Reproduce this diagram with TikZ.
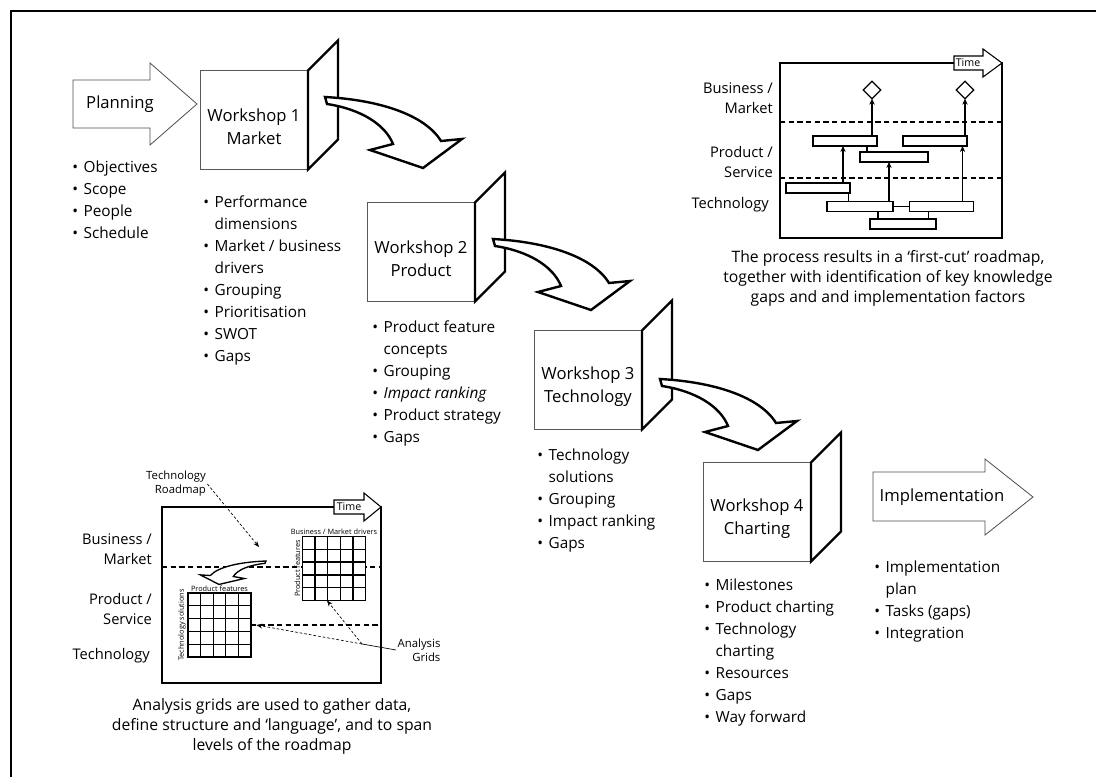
\documentclass[tikz,border=0pt]{standalone}
\usepackage{fontspec}
\setmainfont{Open Sans}
\usetikzlibrary{arrows.meta,positioning,shapes.geometric,calc}
\newcommand{\bul}{\makebox[8.5pt][l]{\textbullet}}
\newcommand{\hang}{\hspace*{8.5pt}}

\begin{document}
\begin{tikzpicture}[
  x=0.75pt, y=-0.75pt,
  border/.style={line width=1.4pt},
  sign/.style={draw=black!70, line width=0.6pt},
  signtext/.style={font=\fontsize{12.5}{15}\selectfont},
  wsbox/.style={draw=black!65, line width=0.7pt, minimum width=81pt,
    minimum height=74.25pt, inner sep=0pt, outer sep=0pt},
  wstext/.style={align=center, font=\fontsize{12.5}{17}\selectfont},
  panel/.style={draw, line width=1.8pt, fill=white, line join=miter},
  curvearrow/.style={draw, line width=1.8pt, fill=white, line join=miter},
  bigarrow/.pic={
    \path[curvearrow] (0,0) .. controls (55,3) and (100,18) .. (116,44)
      -- (137,42) -- (98,71) -- (45,53) -- (68,47)
      .. controls (60,27) and (35,12) .. (2,7) -- cycle;
  },
  items/.style={align=left, anchor=north west, inner sep=0pt,
    font=\fontsize{11.5}{16.5}\selectfont},
  lane/.style={dash pattern=on 4pt off 2.5pt, line width=1.3pt},
  rmframe/.style={line width=0.9pt},
  lanelabel/.style={align=right, anchor=east, inner sep=0pt,
    font=\fontsize{11}{15}\selectfont},
  timesign/.style={draw, line width=0.8pt, fill=white},
  timetext/.style={font=\fontsize{8}{9}\selectfont, inner sep=0pt},
  bar/.style={draw, line width=0.8pt, fill=white, minimum width=48pt,
    minimum height=7.5pt, inner sep=0pt, outer sep=0pt},
  mile/.style={diamond, draw, line width=0.9pt, fill=white,
    minimum size=13pt, inner sep=0pt, outer sep=0pt},
  upflow/.style={-{Stealth[length=4.5pt, width=4pt]}, line width=0.8pt},
  link/.style={line width=0.8pt},
  caption/.style={align=center, font=\fontsize{11.8}{15}\selectfont},
  gridbox/.style={draw, line width=1.3pt, fill=white, minimum width=47.25pt,
    minimum height=48pt, inner sep=0pt, outer sep=0pt},
  gridline/.style={line width=1pt},
  tinytext/.style={font=\fontsize{5.5}{6}\selectfont, inner sep=0.5pt},
  note/.style={align=right, font=\fontsize{8.5}{10.5}\selectfont, inner sep=1pt},
  leader/.style={dash pattern=on 2pt off 1.5pt, line width=0.5pt,
    -{Stealth[length=4.5pt, width=3.5pt]}}
]
\useasboundingbox (0,0) rectangle (1096,777);
\draw[border] (10,11) -- (1096,11);
\draw[border] (11,11) -- (11,777);

% planning
\draw[sign] (73,80) -- (150,80) -- (150,63) -- (197,104) -- (150,145) -- (150,128) -- (73,128) -- cycle;
\node[signtext] (plan) at (120,104) {Planning};
\node[items] (planlist) at (72,160.5) {\bul Objectives\\\bul Scope\\\bul People\\\bul Schedule};

% workshops
\node[wsbox, label={[wstext, yshift=-5pt]center:{Workshop 1\\Market}}] (ws1) at (254,120) {};
\node[wsbox, label={[wstext, yshift=-5pt]center:{Workshop 2\\Product}}] (ws2) at (421,252) {};
\node[wsbox, label={[wstext, yshift=-5pt]center:{Workshop 3\\Technology}}] (ws3) at (588,380) {};
\node[wsbox, label={[wstext, yshift=-5pt]center:{Workshop 4\\Charting}}] (ws4) at (757,512) {};
\foreach \w in {ws1,ws2,ws3,ws4}
  \draw[panel] (\w.south east) -- (\w.north east) -- ++(30,-30) -- ++(0,99) -- cycle;

\pic at (325,97) {bigarrow};
\pic at (493,239) {bigarrow};
\pic at (660,379) {bigarrow};

\node[items] (ws1list) at (203,195.5) {\bul Performance\\\hang dimensions\\\bul Market / business\\\hang drivers\\\bul Grouping\\\bul Prioritisation\\\bul SWOT\\\bul Gaps};
\node[items] (ws2list) at (372,320.5) {\bul Product feature\\\hang concepts\\\bul Grouping\\\bul \textit{Impact ranking}\\\bul Product strategy\\\bul Gaps};
\node[items] (ws3list) at (537,448.5) {\bul Technology\\\hang solutions\\\bul Grouping\\\bul Impact ranking\\\bul Gaps};
\node[items] (ws4list) at (704,578.5) {\bul Milestones\\\bul Product charting\\\bul Technology\\\hang charting\\\bul Resources\\\bul Gaps\\\bul Way forward};

% implementation
\draw[sign] (873,472) -- (985,472) -- (985,459) -- (1033,497) -- (985,535) -- (985,521) -- (873,521) -- cycle;
\node[signtext] (impl) at (942,497) {Implementation};
\node[items] (impllist) at (874,560.5) {\bul Implementation\\\hang plan\\\bul Tasks (gaps)\\\bul Integration};

% first-cut roadmap
\draw[rmframe] (780,63) rectangle (1002,238);
\draw[lane] (780,122) -- (1002,122);
\draw[lane] (780,178) -- (1002,178);
\draw[timesign] (954,56) -- (983,56) -- (983,49) -- (1002,63) -- (983,77) -- (983,70) -- (954,70) -- cycle;
\node[timetext] (time1) at (968,63) {Time};
\node[lanelabel] (bm1) at (773,98) {Business /\\Market};
\node[lanelabel] (ps1) at (773,162) {Product /\\Service};
\node[lanelabel] (te1) at (769,205) {Technology};

\node[bar] (barA) at (845,141) {};
\node[bar] (barB) at (935,141) {};
\node[bar, minimum width=51pt] (barC) at (894,157) {};
\node[bar] (barD) at (818,188) {};
\node[bar, minimum width=49.5pt] (barE) at (860,206.5) {};
\node[bar] (barF) at (941.5,206.5) {};
\node[bar, minimum width=49.5pt] (barG) at (903,224) {};
\node[mile] (mile1) at (872,90) {};
\node[mile] (mile2) at (965,90) {};

\draw[upflow] (mile1.south |- barA.north) -- (mile1.south);
\draw[upflow] (mile2.south |- barB.north) -- (mile2.south);
\draw[upflow] ([xshift=-5.25pt]barD.north east) -- ([xshift=-5.25pt]barD.north east |- barA.south);
\draw[upflow] ([xshift=-3pt]barE.north east) -- ([xshift=-3pt]barE.north east |- barC.south);
\draw[upflow] ([xshift=-8.25pt]barF.north east) -- ([xshift=-8.25pt]barF.north east |- barB.south);
\draw[link] (barE.east) -- (barF.west);
\draw[link] ([xshift=-11.25pt]barE.south east) -- ([xshift=-11.25pt]barE.south east |- barG.north);
\draw[link] ([xshift=14.25pt]barF.south west) -- ([xshift=14.25pt]barF.south west |- barG.north);
\draw[link] ([xshift=5.25pt]barC.north west) -- ([xshift=5.25pt]barC.north west |- barA.south);
\draw[link] ([xshift=-1pt]barD.south east) -- ([xshift=-1pt]barD.south east |- barE.north);

\node[caption] (cap1) at (888,278) {The process results in a ‘first-cut’ roadmap,\\together with identification of key knowledge\\gaps and and implementation factors};

% analysis grids
\draw[rmframe] (162,507) rectangle (381,683);
\draw[lane] (162,567) -- (381,567);
\draw[lane] (251,625) -- (381,625);
\draw[timesign] (334,500) -- (364,500) -- (364,493) -- (381,507) -- (364,521) -- (364,514) -- (334,514) -- cycle;
\node[timetext] (time2) at (349,507) {Time};
\node[lanelabel] (bm2) at (152,549) {Business /\\Market};
\node[lanelabel] (ps2) at (152,609) {Product /\\Service};
\node[lanelabel] (te2) at (150,656) {Technology};

\pic[curvearrow/.append style={line width=1pt}, xscale=-0.48, yscale=0.33] at (266,561) {bigarrow};

\node[gridbox] (grid1) at (334,568.5) {};
\node[gridbox] (grid2) at (219.5,625) {};
\foreach \g in {grid1,grid2}
  \foreach \k in {1,...,4} {
    \draw[gridline] ($(\g.north west)!\k/5!(\g.north east)$) -- ($(\g.south west)!\k/5!(\g.south east)$);
    \draw[gridline] ($(\g.north west)!\k/5!(\g.south west)$) -- ($(\g.north east)!\k/5!(\g.south east)$);
  }
\node[tinytext, above=0.5pt of grid1] (g1top) {Business / Market drivers};
\node[tinytext, rotate=90, anchor=south] (g1side) at ([xshift=-1pt]grid1.west) {Product features};
\node[tinytext, above=0.5pt of grid2] (g2top) {Product features};
\node[tinytext, rotate=90, anchor=south] (g2side) at ([xshift=-1pt]grid2.west) {Technology solutions};

\node[note] (trm) at (176,484) {Technology\\Roadmap};
\coordinate (trmtip) at (259,547);
\draw[leader] (trm.east) -- (trmtip);

\node[note, anchor=east] (agrid) at (442,650) {Analysis\\Grids};
\coordinate (agc) at (362,644);
\draw[line width=0.5pt] (agc) -- (agrid.west);
\draw[leader] (agc) -- ([xshift=-5.25pt]grid1.south);
\draw[leader] (agc) -- ([xshift=4pt]grid2.east);

\node[caption] (cap2) at (272,726) {Analysis grids are used to gather data,\\define structure and ‘language’, and to span\\levels of the roadmap};
\end{tikzpicture}
\end{document}
